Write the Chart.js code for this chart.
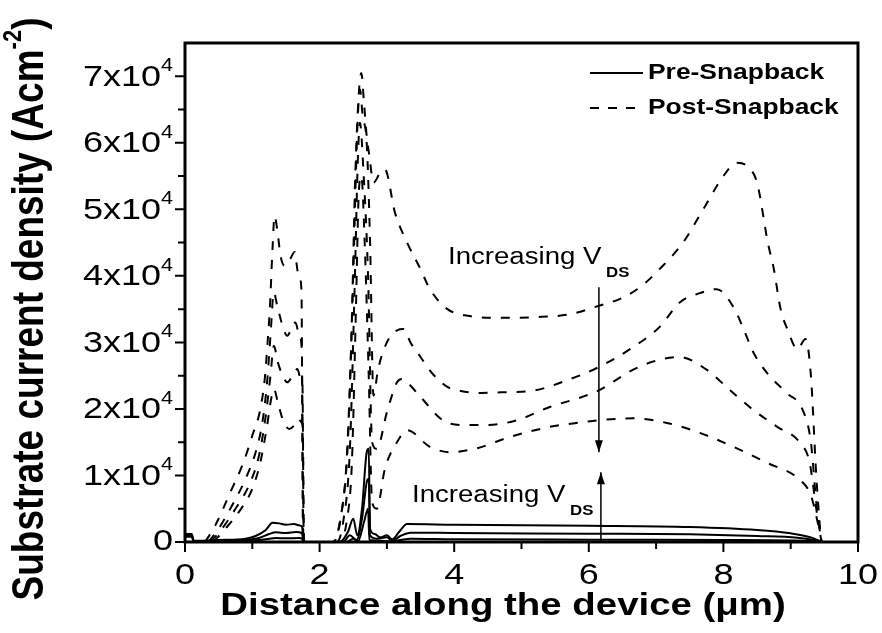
<!DOCTYPE html>
<html>
<head>
<meta charset="utf-8">
<script src="https://cdn.jsdelivr.net/npm/chart.js@4/dist/chart.umd.min.js"></script>
<style>
  html, body { margin: 0; padding: 0; background: #fff; }
  canvas { display: block; }
</style>
</head>
<body>
<canvas id="chartJ" width="882" height="633"></canvas>
<script>
// Pre-snapback substrate current density (A/cm^2) vs distance (um), three bias points
const preLowX  = [0, 0.1, 0.13, 0.9, 1.2, 1.35, 1.5, 1.7, 1.74, 1.76, 2.4, 2.5, 2.57, 2.66, 2.72, 2.74, 2.9, 3.05, 3.2, 3.35, 4, 6, 8, 9.2, 9.47];
const preLowY  = [800, 800, 0, 100, 400, 600, 550, 600, 500, 0, 0, 500, 100, 3000, 5000, 300, 200, 100, 300, 500, 420, 350, 300, 200, 0];
const preMidX  = [0, 0.1, 0.13, 0.5, 0.9, 1.1, 1.25, 1.35, 1.5, 1.65, 1.74, 1.76, 1.8, 2.35, 2.45, 2.55, 2.63, 2.7, 2.73, 2.75, 2.85, 3.0, 3.08, 3.2, 3.35, 4, 6, 7.5, 8.5, 9.1, 9.35, 9.47];
const preMidY  = [1000, 1000, 100, 150, 300, 600, 1200, 1450, 1350, 1500, 1300, 100, 0, 0, 1000, 300, 3500, 9000, 9500, 1000, 500, 700, 200, 900, 1400, 1350, 1250, 1150, 900, 650, 300, 0];
const preHighX = [0, 0.1, 0.13, 0.5, 0.9, 1.05, 1.2, 1.3, 1.4, 1.5, 1.62, 1.7, 1.74, 1.76, 1.8, 2.3, 2.42, 2.5, 2.56, 2.63, 2.7, 2.73, 2.75, 2.82, 2.9, 3.0, 3.08, 3.18, 3.3, 4, 6, 7.5, 8.5, 9.0, 9.3, 9.47];
const preHighY = [1200, 1200, 200, 300, 500, 900, 1800, 2900, 2800, 2600, 2700, 2500, 2300, 200, 0, 0, 1500, 3500, 1000, 5000, 13500, 14000, 2000, 1200, 700, 1000, 400, 1500, 2700, 2600, 2450, 2250, 1800, 1300, 700, 0];

// Post-snapback, four bias points from lowest to highest
const post1X = [0.42, 0.6, 0.8, 1.0, 1.12, 1.22, 1.28, 1.32, 1.38, 1.45, 1.55, 1.62, 1.68, 1.73, 1.75, 1.77, 2.3, 2.4, 2.48, 2.54, 2.58, 2.62, 2.67, 2.73, 2.78, 2.85, 2.97, 3.15, 3.3, 3.64, 3.94, 4.34, 4.83, 5.42, 5.9, 6.15, 6.66, 7.16, 7.65, 8.15, 8.65, 9.14, 9.3, 9.4, 9.46];
const post1Y = [0, 2000, 4500, 8000, 12000, 17500, 21500, 23000, 21000, 18500, 17000, 17500, 18500, 18000, 17000, 0, 0, 3000, 12000, 35000, 52000, 55000, 45000, 25000, 6000, 5000, 11000, 15000, 16800, 14300, 13500, 14100, 15800, 17300, 18000, 18300, 18600, 17900, 16400, 14300, 11900, 9300, 7000, 3000, 0];
const post2X = [0.38, 0.55, 0.75, 0.95, 1.1, 1.2, 1.27, 1.32, 1.38, 1.45, 1.52, 1.6, 1.67, 1.72, 1.745, 1.765, 2.25, 2.35, 2.45, 2.52, 2.57, 2.6, 2.65, 2.72, 2.78, 2.85, 3.0, 3.15, 3.22, 3.3, 3.5, 3.83, 4.1, 4.5, 4.93, 5.42, 5.9, 6.15, 6.66, 7.05, 7.35, 7.75, 8.1, 8.45, 8.8, 9.14, 9.28, 9.38, 9.46];
const post2Y = [0, 2000, 5000, 8500, 13000, 19000, 25000, 29500, 27000, 25000, 24000, 25000, 26000, 24500, 24000, 0, 0, 3000, 14000, 38000, 58000, 63000, 56000, 40000, 15000, 14000, 19500, 24000, 24500, 24000, 21800, 18300, 17600, 17600, 18300, 20300, 21800, 22800, 25900, 27400, 27800, 25900, 22800, 19800, 17300, 14900, 12000, 5000, 0];
const post3X = [0.35, 0.5, 0.7, 0.9, 1.05, 1.15, 1.22, 1.27, 1.32, 1.37, 1.45, 1.52, 1.58, 1.64, 1.7, 1.735, 1.76, 2.2, 2.32, 2.42, 2.5, 2.56, 2.6, 2.64, 2.7, 2.75, 2.8, 2.87, 3.0, 3.15, 3.25, 3.35, 3.5, 3.67, 3.9, 4.1, 4.4, 4.7, 5.2, 5.7, 6.15, 6.66, 7.05, 7.35, 7.65, 7.9, 8.15, 8.3, 8.45, 8.65, 8.94, 9.18, 9.3, 9.38, 9.46];
const post3Y = [0, 2000, 5500, 9500, 13500, 18000, 24000, 31000, 37500, 35500, 32500, 31000, 32000, 33000, 31000, 29000, 0, 0, 4000, 15000, 40000, 62000, 68000, 64000, 60000, 45000, 22000, 26000, 30000, 31800, 32000, 30000, 27800, 25400, 23300, 22700, 22400, 22500, 22800, 24400, 26300, 29300, 32300, 36000, 37400, 38000, 35300, 32000, 28400, 25400, 22400, 19800, 15000, 6000, 0];
const post4X = [0.3, 0.45, 0.67, 0.87, 1.0, 1.12, 1.19, 1.22, 1.26, 1.3, 1.33, 1.37, 1.42, 1.48, 1.56, 1.63, 1.68, 1.73, 1.755, 2.2, 2.3, 2.4, 2.47, 2.53, 2.58, 2.62, 2.66, 2.7, 2.74, 2.8, 2.9, 2.97, 3.12, 3.3, 3.5, 3.64, 3.9, 4.2, 4.7, 5.2, 5.7, 6.15, 6.5, 6.8, 7.05, 7.4, 7.7, 8.0, 8.2, 8.35, 8.5, 8.66, 8.75, 8.85, 8.95, 9.1, 9.22, 9.3, 9.38, 9.45];
const post4Y = [0, 2500, 7400, 12000, 16000, 20000, 25000, 29000, 35000, 44000, 49000, 47000, 43000, 41500, 42500, 43600, 40500, 38000, 0, 0, 3000, 12000, 30000, 55000, 67000, 70500, 66000, 61000, 58000, 54000, 55500, 56000, 49500, 45000, 41000, 38000, 35000, 34000, 33700, 33800, 34200, 35500, 36700, 38600, 41000, 45000, 50000, 55000, 57000, 56500, 54000, 45000, 41000, 35000, 32000, 29000, 30500, 25000, 10000, 0];

// Axis ticks
const xMajorTicks = [0, 2, 4, 6, 8, 10];
const xMinorTicks = [1, 3, 5, 7, 9];
const yMajorTicks = [0, 10000, 20000, 30000, 40000, 50000, 60000, 70000];
const yMinorTicks = [5000, 15000, 25000, 35000, 45000, 55000, 65000];
const yTickMantissa = ['0', '1', '2', '3', '4', '5', '6', '7'];

const FONT = '"Liberation Sans", Arial, sans-serif';
const STRETCH = 1.2;   // lettering is a bit wider than plain Arial

function pts(xs, ys) {
  return xs.map((x, i) => ({ x: x, y: ys[i] }));
}

function solid(xs, ys) {
  return { data: pts(xs, ys), borderColor: '#000', borderWidth: 2, borderDash: [] };
}

function dashed(xs, ys) {
  return { data: pts(xs, ys), borderColor: '#000', borderWidth: 2, borderDash: [9, 10] };
}

// text runs with optional super/subscript pieces, widened horizontally
function runWidth(ctx, runs) {
  let w = 0;
  runs.forEach(r => { ctx.font = r.font; w += ctx.measureText(r.t).width; });
  return w;
}
function drawRuns(ctx, runs, x, y, align, sx) {
  sx = sx || STRETCH;
  const w = runWidth(ctx, runs);
  let cx = align === 'right' ? -w : align === 'center' ? -w / 2 : 0;
  ctx.save();
  ctx.translate(x, y);
  ctx.scale(sx, 1);
  ctx.textAlign = 'left';
  ctx.textBaseline = 'middle';
  runs.forEach(r => {
    ctx.font = r.font;
    ctx.fillText(r.t, cx, r.dy || 0);
    cx += ctx.measureText(r.t).width;
  });
  ctx.restore();
}

const decorations = {
  id: 'decorations',
  afterDraw(chart) {
    const ctx = chart.ctx;
    const xs = chart.scales.x, ys = chart.scales.y;
    const L = xs.getPixelForValue(0), R = xs.getPixelForValue(10);
    const T = ys.getPixelForValue(75000), B = ys.getPixelForValue(0);
    ctx.save();
    ctx.fillStyle = '#000';
    ctx.strokeStyle = '#000';

    // frame
    ctx.lineWidth = 3;
    ctx.strokeRect(L, T, R - L, B - T);

    // tick marks
    ctx.lineWidth = 2;
    ctx.beginPath();
    xMajorTicks.forEach(v => { const p = xs.getPixelForValue(v); ctx.moveTo(p, B); ctx.lineTo(p, B + 10); });
    xMinorTicks.forEach(v => { const p = xs.getPixelForValue(v); ctx.moveTo(p, B); ctx.lineTo(p, B + 7); });
    yMajorTicks.forEach(v => { const p = ys.getPixelForValue(v); ctx.moveTo(L, p); ctx.lineTo(L - 10, p); });
    yMinorTicks.forEach(v => { const p = ys.getPixelForValue(v); ctx.moveTo(L, p); ctx.lineTo(L - 7, p); });
    ctx.stroke();

    // tick labels
    const big = '30px ' + FONT, sup = '18px ' + FONT;
    xMajorTicks.forEach(v => {
      drawRuns(ctx, [{ t: String(v), font: big }], xs.getPixelForValue(v), B + 34, 'center');
    });
    yMajorTicks.forEach((v, i) => {
      const p = ys.getPixelForValue(v);
      if (v === 0) {
        drawRuns(ctx, [{ t: '0', font: big }], L - 12, p, 'right');
      } else {
        drawRuns(ctx, [{ t: yTickMantissa[i] + 'x10', font: big }, { t: '4', font: sup, dy: -11 }], L - 12, p + 1, 'right');
      }
    });

    // axis titles
    drawRuns(ctx, [{ t: 'Distance along the device (\u03bcm)', font: 'bold 32px ' + FONT }], 503, B + 64, 'center');
    ctx.save();
    ctx.translate(31, 309);
    ctx.scale(STRETCH, 1);
    ctx.rotate(-Math.PI / 2);
    drawRuns(ctx, [
      { t: 'Substrate current density (Acm', font: 'bold 37px ' + FONT },
      { t: '-2', font: 'bold 22px ' + FONT, dy: -14 },
      { t: ')', font: 'bold 37px ' + FONT }
    ], 0, 0, 'center', 1);
    ctx.restore();

    // legend
    const lg = 'bold 22px ' + FONT;
    ctx.lineWidth = 2;
    ctx.beginPath();
    ctx.moveTo(590, 73); ctx.lineTo(643, 73);
    ctx.stroke();
    ctx.setLineDash([9, 9]);
    ctx.beginPath();
    ctx.moveTo(590, 108); ctx.lineTo(643, 108);
    ctx.stroke();
    ctx.setLineDash([]);
    drawRuns(ctx, [{ t: 'Pre-Snapback', font: lg }], 648, 73, 'left');
    drawRuns(ctx, [{ t: 'Post-Snapback', font: lg }], 648, 108, 'left');

    // bias arrows and labels
    const ax = xs.getPixelForValue(6.15);
    const upTop = ys.getPixelForValue(38300), upBot = ys.getPixelForValue(13500);
    const loTop = ys.getPixelForValue(10500), loBot = ys.getPixelForValue(0);
    ctx.lineWidth = 1.5;
    ctx.beginPath();
    ctx.moveTo(ax, upTop); ctx.lineTo(ax, upBot);
    ctx.moveTo(ax + 2, loBot); ctx.lineTo(ax + 2, loTop);
    ctx.stroke();
    ctx.beginPath();
    ctx.moveTo(ax - 4, upBot - 12); ctx.lineTo(ax + 4, upBot - 12); ctx.lineTo(ax, upBot); ctx.closePath();
    ctx.moveTo(ax - 2, loTop + 12); ctx.lineTo(ax + 6, loTop + 12); ctx.lineTo(ax + 2, loTop); ctx.closePath();
    ctx.fill();

    const ann = '23px ' + FONT, annSub = 'bold 14px ' + FONT;
    drawRuns(ctx, [{ t: 'Increasing V', font: ann }, { t: ' DS', font: annSub, dy: 15 }], 448, 258, 'left');
    drawRuns(ctx, [{ t: 'Increasing V', font: ann }, { t: ' DS', font: annSub, dy: 15 }], 412, 496, 'left');
    ctx.restore();
  }
};

new Chart(document.getElementById('chartJ'), {
  type: 'line',
  data: {
    datasets: [
      solid(preLowX, preLowY),
      solid(preMidX, preMidY),
      solid(preHighX, preHighY),
      dashed(post1X, post1Y),
      dashed(post2X, post2Y),
      dashed(post3X, post3Y),
      dashed(post4X, post4Y)
    ]
  },
  options: {
    responsive: false,
    animation: false,
    devicePixelRatio: 1,
    layout: { padding: { left: 185, top: 43, right: 24, bottom: 91 } },
    elements: {
      point: { radius: 0 },
      line: { cubicInterpolationMode: 'monotone', fill: false }
    },
    scales: {
      x: { type: 'linear', min: 0, max: 10, display: false },
      y: { type: 'linear', min: 0, max: 75000, display: false }
    },
    plugins: {
      legend: { display: false },
      tooltip: { enabled: false }
    }
  },
  plugins: [decorations]
});
</script>
</body>
</html>
